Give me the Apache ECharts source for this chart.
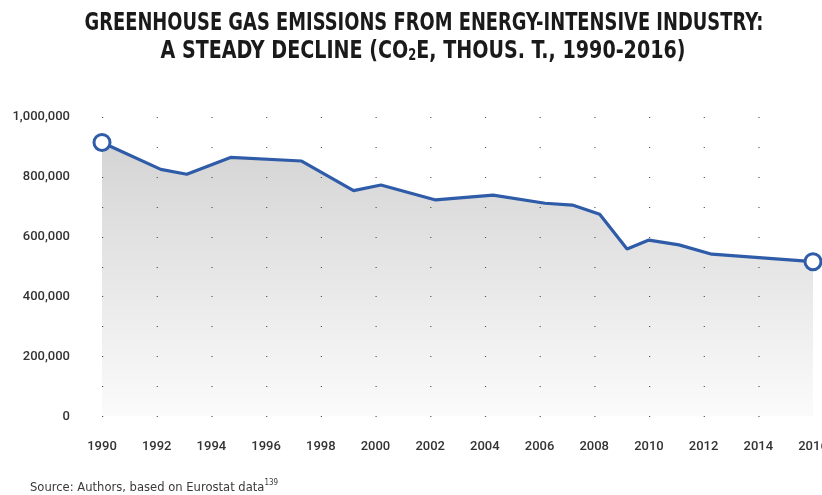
<!DOCTYPE html>
<html>
<head>
<meta charset="utf-8">
<script src="https://cdn.jsdelivr.net/npm/echarts@6/dist/echarts.min.js"></script>
<style>
html,body{margin:0;padding:0;background:#fff;}
#chart{width:822px;height:495px;}
</style>
</head>
<body>
<div id="chart"></div>
<script>
// Data (vertex positions along the year axis, emissions in thous. t CO2e)
const years = [1990, 1992.15, 1993.1, 1994.7, 1997.3, 1999.2, 2000.2, 2002.2, 2004.3, 2006.2, 2007.2, 2008.2, 2009.2, 2010, 2011.1, 2012.3, 2016];
const emissions = [915000, 825000, 809000, 865000, 853000, 754000, 773000, 723000, 739000, 712000, 706000, 675000, 559000, 589000, 573000, 542000, 517000];
const yTickLabels = ['0', '200,000', '400,000', '600,000', '800,000', '1,000,000'];
const titleLine1 = 'GREENHOUSE GAS EMISSIONS FROM ENERGY-INTENSIVE INDUSTRY:';
const titleLine2 = ['A STEADY DECLINE (CO', '2', 'E, THOUS. T., 1990-2016)'];
const sourceText = ['Source: Authors, based on Eurostat data', '139'];

const pts = years.map((y, i) => [y, emissions[i]]);
const last = pts.length - 1;
const blue = '#2f5ca8';

const titleFont = '"DejaVu Sans Condensed", "DejaVu Sans", sans-serif';
const titleSize = 25;
const srcFont = '"DejaVu Sans Condensed", "DejaVu Sans", sans-serif';

function measure(text, font) {
  const c = document.createElement('canvas').getContext('2d');
  c.font = font;
  return c.measureText(text).width;
}
const w1 = measure(titleLine1, 'bold ' + titleSize + 'px ' + titleFont);
const w2 = measure(titleLine2[0] + titleLine2[2], 'bold ' + titleSize + 'px ' + titleFont) +
           measure(titleLine2[1], 'bold 15px ' + titleFont);
const sx1 = 679 / w1;
const sx2 = 525 / w2;
const ws = measure(sourceText[0], '13px ' + srcFont) + measure(sourceText[1], '8px ' + srcFont);
const sxs = 248 / ws;

const chart = echarts.init(document.getElementById('chart'));
chart.setOption({
  backgroundColor: '#ffffff',
  animation: false,
  graphic: [{
    type: 'text', x: 424, y: 23, scaleX: sx1, z: 20,
    style: {
      text: titleLine1,
      align: 'center', verticalAlign: 'middle',
      fontFamily: titleFont, fontWeight: 'bold', fontSize: titleSize,
      fill: '#1a1a1a'
    }
  }, {
    type: 'text', x: 423, y: 51, scaleX: sx2, z: 20,
    style: {
      text: titleLine2[0] + '{s|' + titleLine2[1] + '}' + titleLine2[2],
      align: 'center', verticalAlign: 'middle',
      fontFamily: titleFont, fontWeight: 'bold', fontSize: titleSize,
      fill: '#1a1a1a',
      rich: {
        s: { fontFamily: titleFont, fontWeight: 'bold', fontSize: 15, fill: '#1a1a1a', verticalAlign: 'bottom', lineHeight: 24 }
      }
    }
  }, {
    type: 'text', x: 30, y: 488, scaleX: sxs, z: 20,
    style: {
      text: sourceText[0] + '{sup|' + sourceText[1] + '}',
      align: 'left', verticalAlign: 'middle',
      fontFamily: srcFont, fontSize: 13, fill: '#3a3a3a',
      rich: { sup: { fontFamily: srcFont, fontSize: 8, fill: '#3a3a3a', verticalAlign: 'top', lineHeight: 18 } }
    }
  }],
  grid: { left: 102, right: 9, top: 117, bottom: 78.5, containLabel: false, outerBoundsMode: 'none' },
  xAxis: {
    type: 'value',
    min: 1990, max: 2016, interval: 2,
    axisLine: { show: false },
    axisTick: { show: false },
    splitLine: { show: false },
    axisLabel: {
      margin: 24,
      color: '#333',
      fontFamily: 'Roboto, sans-serif',
      fontSize: 13,
      fontWeight: 500,
      formatter: v => String(v)
    }
  },
  yAxis: {
    type: 'value',
    min: 0, max: 1000000, interval: 100000,
    z: 5,
    axisLine: { show: false },
    axisTick: { show: false },
    splitLine: {
      show: true,
      lineStyle: { color: '#555', width: 1.2, type: [1.2, 53.5] }
    },
    axisLabel: {
      margin: 32,
      color: '#333',
      fontFamily: 'Roboto, sans-serif',
      fontSize: 13,
      fontWeight: 500,
      formatter: v => (v % 200000 === 0 ? yTickLabels[v / 200000] : '')
    }
  },
  series: [{
    type: 'line',
    z: 1,
    data: pts,
    symbol: 'none',
    lineStyle: { width: 0 },
    areaStyle: {
      color: new echarts.graphic.LinearGradient(0, 0, 0, 1, [
        { offset: 0, color: '#d4d4d4' },
        { offset: 1, color: '#fbfbfb' }
      ]),
      opacity: 1
    },
    silent: true
  }, {
    type: 'line',
    z: 10,
    clip: false,
    data: pts,
    symbol: 'circle',
    showAllSymbol: true,
    symbolSize: (v, p) => (p.dataIndex === 0 || p.dataIndex === last ? 16 : 0),
    lineStyle: { color: blue, width: 3.2 },
    itemStyle: { color: '#fff', borderColor: blue, borderWidth: 3 }
  }]
});
</script>
</body>
</html>
